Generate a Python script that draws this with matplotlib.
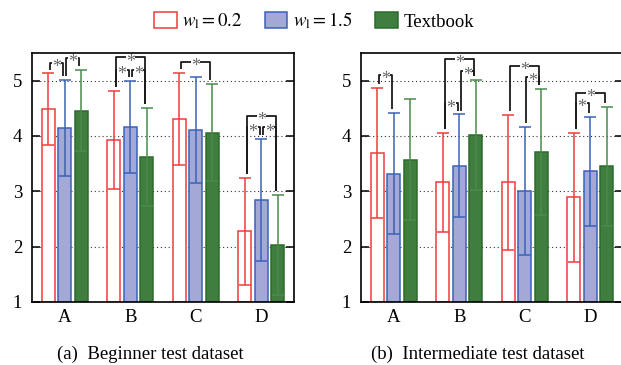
import numpy as np
import matplotlib
matplotlib.use("Agg")
import matplotlib.pyplot as plt
from matplotlib.patches import Patch

plt.rcParams['font.family'] = ['Liberation Serif', 'DejaVu Serif']
plt.rcParams['mathtext.fontset'] = 'stix'

groups = ['A', 'B', 'C', 'D']
series = [r'$w_{\mathrm{l}} = 0.2$', r'$w_{\mathrm{l}} = 1.5$', 'Textbook']

# beginner test dataset: means and std
beg_mean = [[4.48, 3.93, 4.31, 2.28],
            [4.14, 4.16, 4.11, 2.84],
            [4.46, 3.62, 4.06, 2.03]]
beg_sd = [[0.65, 0.88, 0.83, 0.97],
          [0.87, 0.83, 0.96, 1.10],
          [0.73, 0.88, 0.88, 0.90]]

# intermediate test dataset
int_mean = [[3.69, 3.16, 3.16, 2.89],
            [3.32, 3.46, 3.01, 3.36],
            [3.57, 4.02, 3.71, 3.45]]
int_sd = [[1.18, 0.90, 1.22, 1.17],
          [1.09, 0.93, 1.16, 0.98],
          [1.09, 0.99, 1.14, 1.07]]

# significance brackets: (group, bar i, bar j, height)
beg_sig = [(0, 0, 1, 5.32), (0, 1, 2, 5.41),
           (1, 0, 1, 5.20), (1, 1, 2, 5.20), (1, 0, 2, 5.42),
           (2, 0, 2, 5.34),
           (3, 0, 1, 4.16), (3, 1, 2, 4.16), (3, 0, 2, 4.36)]
int_sig = [(0, 0, 1, 5.11),
           (1, 0, 1, 4.59), (1, 1, 2, 5.18), (1, 0, 2, 5.39),
           (2, 1, 2, 5.07), (2, 0, 2, 5.27),
           (3, 0, 1, 4.60), (3, 0, 2, 4.78)]

captions = ['(a)  Beginner test dataset', '(b)  Intermediate test dataset']

face = ['white', '#a3a8d6', '#3f7e3f']
edge = ['#f03c3c', '#3a62b8', '#2e6b2e']
ecol = ['#f03c3c', '#3a62b8', '#4a8a4a']

offs = [-0.25, 0.0, 0.25]
width = 0.2


def draw(ax, means, sds, sig):
    x = np.arange(len(groups))
    for k in range(3):
        ax.bar(x + offs[k], np.array(means[k]) - 1, width, bottom=1,
               color=face[k], edgecolor=edge[k], linewidth=1.1, zorder=2)
        ax.errorbar(x + offs[k], means[k], yerr=sds[k], fmt='none',
                    ecolor=ecol[k], elinewidth=1.1, capsize=4, capthick=1.1,
                    zorder=3)
    tops = np.array(means) + np.array(sds)
    for g, i, j, h in sig:
        x1 = g + offs[i] + 0.025
        x2 = g + offs[j] - 0.025
        xm = (x1 + x2) / 2
        y1 = tops[i][g] + 0.07
        y2 = tops[j][g] + 0.07
        kw = dict(color='#1a1a1a', lw=1.3, zorder=4, solid_capstyle='butt')
        ax.plot([x1, x1, xm - 0.07], [y1, h, h], **kw)
        ax.plot([xm + 0.07, x2, x2], [h, h, y2], **kw)
        ax.text(xm, h - 0.17, '*', ha='center', va='baseline', fontsize=13,
                color='#666666', zorder=5)

    ax.set_xlim(-0.5, 3.5)
    ax.set_ylim(1, 5.5)
    ax.set_yticks([1, 2, 3, 4, 5])
    ax.set_xticks(x)
    ax.set_xticklabels(groups)
    ax.yaxis.grid(True, linestyle=(0, (1, 2.5)), color='#333333', lw=0.8)
    ax.set_axisbelow(True)
    ax.tick_params(axis='y', direction='in', length=6, width=1.1,
                   right=True, labelsize=13.5, pad=7)
    ax.tick_params(axis='x', length=0, labelsize=13.5, pad=5)
    for s in ax.spines.values():
        s.set_linewidth(1.2)


fig = plt.figure(figsize=(6.21, 3.65), dpi=100)
ax1 = fig.add_axes([32 / 621, 63 / 365, 262 / 621, 249 / 365])
ax2 = fig.add_axes([361 / 621, 63 / 365, 262 / 621, 249 / 365])

draw(ax1, beg_mean, beg_sd, beg_sig)
draw(ax2, int_mean, int_sd, int_sig)

fig.text(150 / 621, 1 - 354 / 365, captions[0], ha='center', va='center',
         fontsize=13.5)
fig.text(478 / 621, 1 - 354 / 365, captions[1], ha='center', va='center',
         fontsize=13.5)

handles = [Patch(facecolor=face[k], edgecolor=edge[k], linewidth=1.1)
           for k in range(3)]
fig.legend(handles, series, loc='center', bbox_to_anchor=(314 / 621, 1 - 21 / 365),
           ncol=3, frameon=False, fontsize=13.5, handlelength=1.2,
           handleheight=0.95, handletextpad=0.3, columnspacing=1.2)

fig.savefig('out.png', dpi=100)
